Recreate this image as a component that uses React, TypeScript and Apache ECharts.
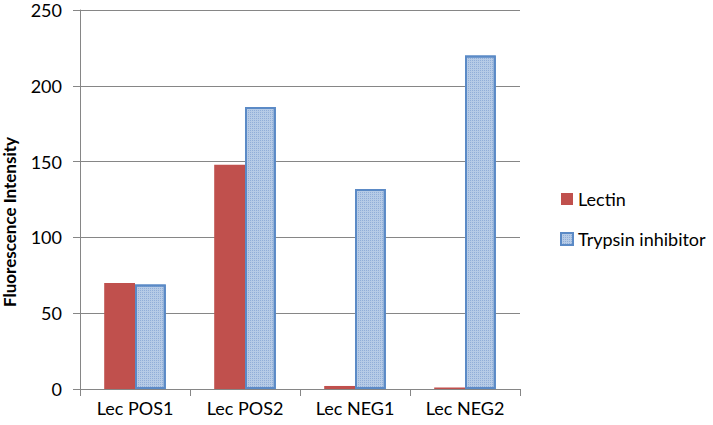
import React, { useEffect, useRef } from "react";
import * as echarts from "echarts";

const categories = ["Lec POS1", "Lec POS2", "Lec NEG1", "Lec NEG2"];
const lectin = [70, 148, 2, 1];
const trypsin = [69, 186, 132, 220];
const seriesNames = ["Lectin", "Trypsin inhibitor"];
const yTitle = "Fluorescence Intensity";

export default function App() {
  const ref = useRef<HTMLDivElement>(null);
  useEffect(() => {
    if (!ref.current) return;
    const chart = echarts.init(ref.current, null, { renderer: "svg" });
    const font = "Lato, 'Open Sans', sans-serif";
    chart.setOption({
      animation: false,
      textStyle: { fontFamily: font },
      grid: { left: 80, right: 193, top: 10, bottom: 36, containLabel: false },
      legend: {
        orient: "vertical",
        left: 555,
        top: 185,
        itemWidth: 12,
        itemHeight: 12,
        itemGap: 22,
        icon: "rect",
        textStyle: { fontFamily: font, fontSize: 18, color: "#000" },
        data: seriesNames,
      },
      graphic: [
        {
          type: "text",
          x: 9,
          y: 222,
          rotation: Math.PI / 2,
          style: {
            text: yTitle,
            fontFamily: font,
            fontSize: 17,
            fontWeight: "bold",
            fill: "#000",
            textAlign: "center",
            textVerticalAlign: "middle",
          },
        },
      ],
      xAxis: {
        type: "category",
        data: categories,
        axisLine: { lineStyle: { color: "#868686", width: 1 } },
        axisTick: { show: true, length: 7, lineStyle: { color: "#868686" } },
        axisLabel: { fontFamily: font, fontSize: 18, color: "#000", margin: 10 },
      },
      yAxis: {
        type: "value",
        min: 0,
        max: 250,
        interval: 50,
        axisLine: { show: true, lineStyle: { color: "#868686", width: 1 } },
        axisTick: { show: true, length: 7, lineStyle: { color: "#868686" } },
        axisLabel: { fontFamily: font, fontSize: 18, color: "#000", margin: 18 },
        splitLine: { lineStyle: { color: "#868686", width: 1 } },
      },
      series: [
        {
          name: seriesNames[0],
          type: "bar",
          data: lectin,
          barWidth: "28%",
          barGap: "0%",
          itemStyle: { color: "#C0504D" },
        },
        {
          name: seriesNames[1],
          type: "bar",
          data: trypsin,
          barWidth: "28%",
          itemStyle: {
            color: "#B6CBE6",
            borderColor: "#5B8AC6",
            borderWidth: 2,
            decal: {
              symbol: "rect",
              symbolSize: 1,
              dashArrayX: [1, 1],
              dashArrayY: [1, 1],
              color: "rgba(100,140,200,0.45)",
            },
          },
        },
      ],
    });
    return () => chart.dispose();
  }, []);
  return (
    <div
      ref={ref}
      style={{ position: "absolute", left: 0, top: 0, width: 713, height: 425 }}
    />
  );
}
